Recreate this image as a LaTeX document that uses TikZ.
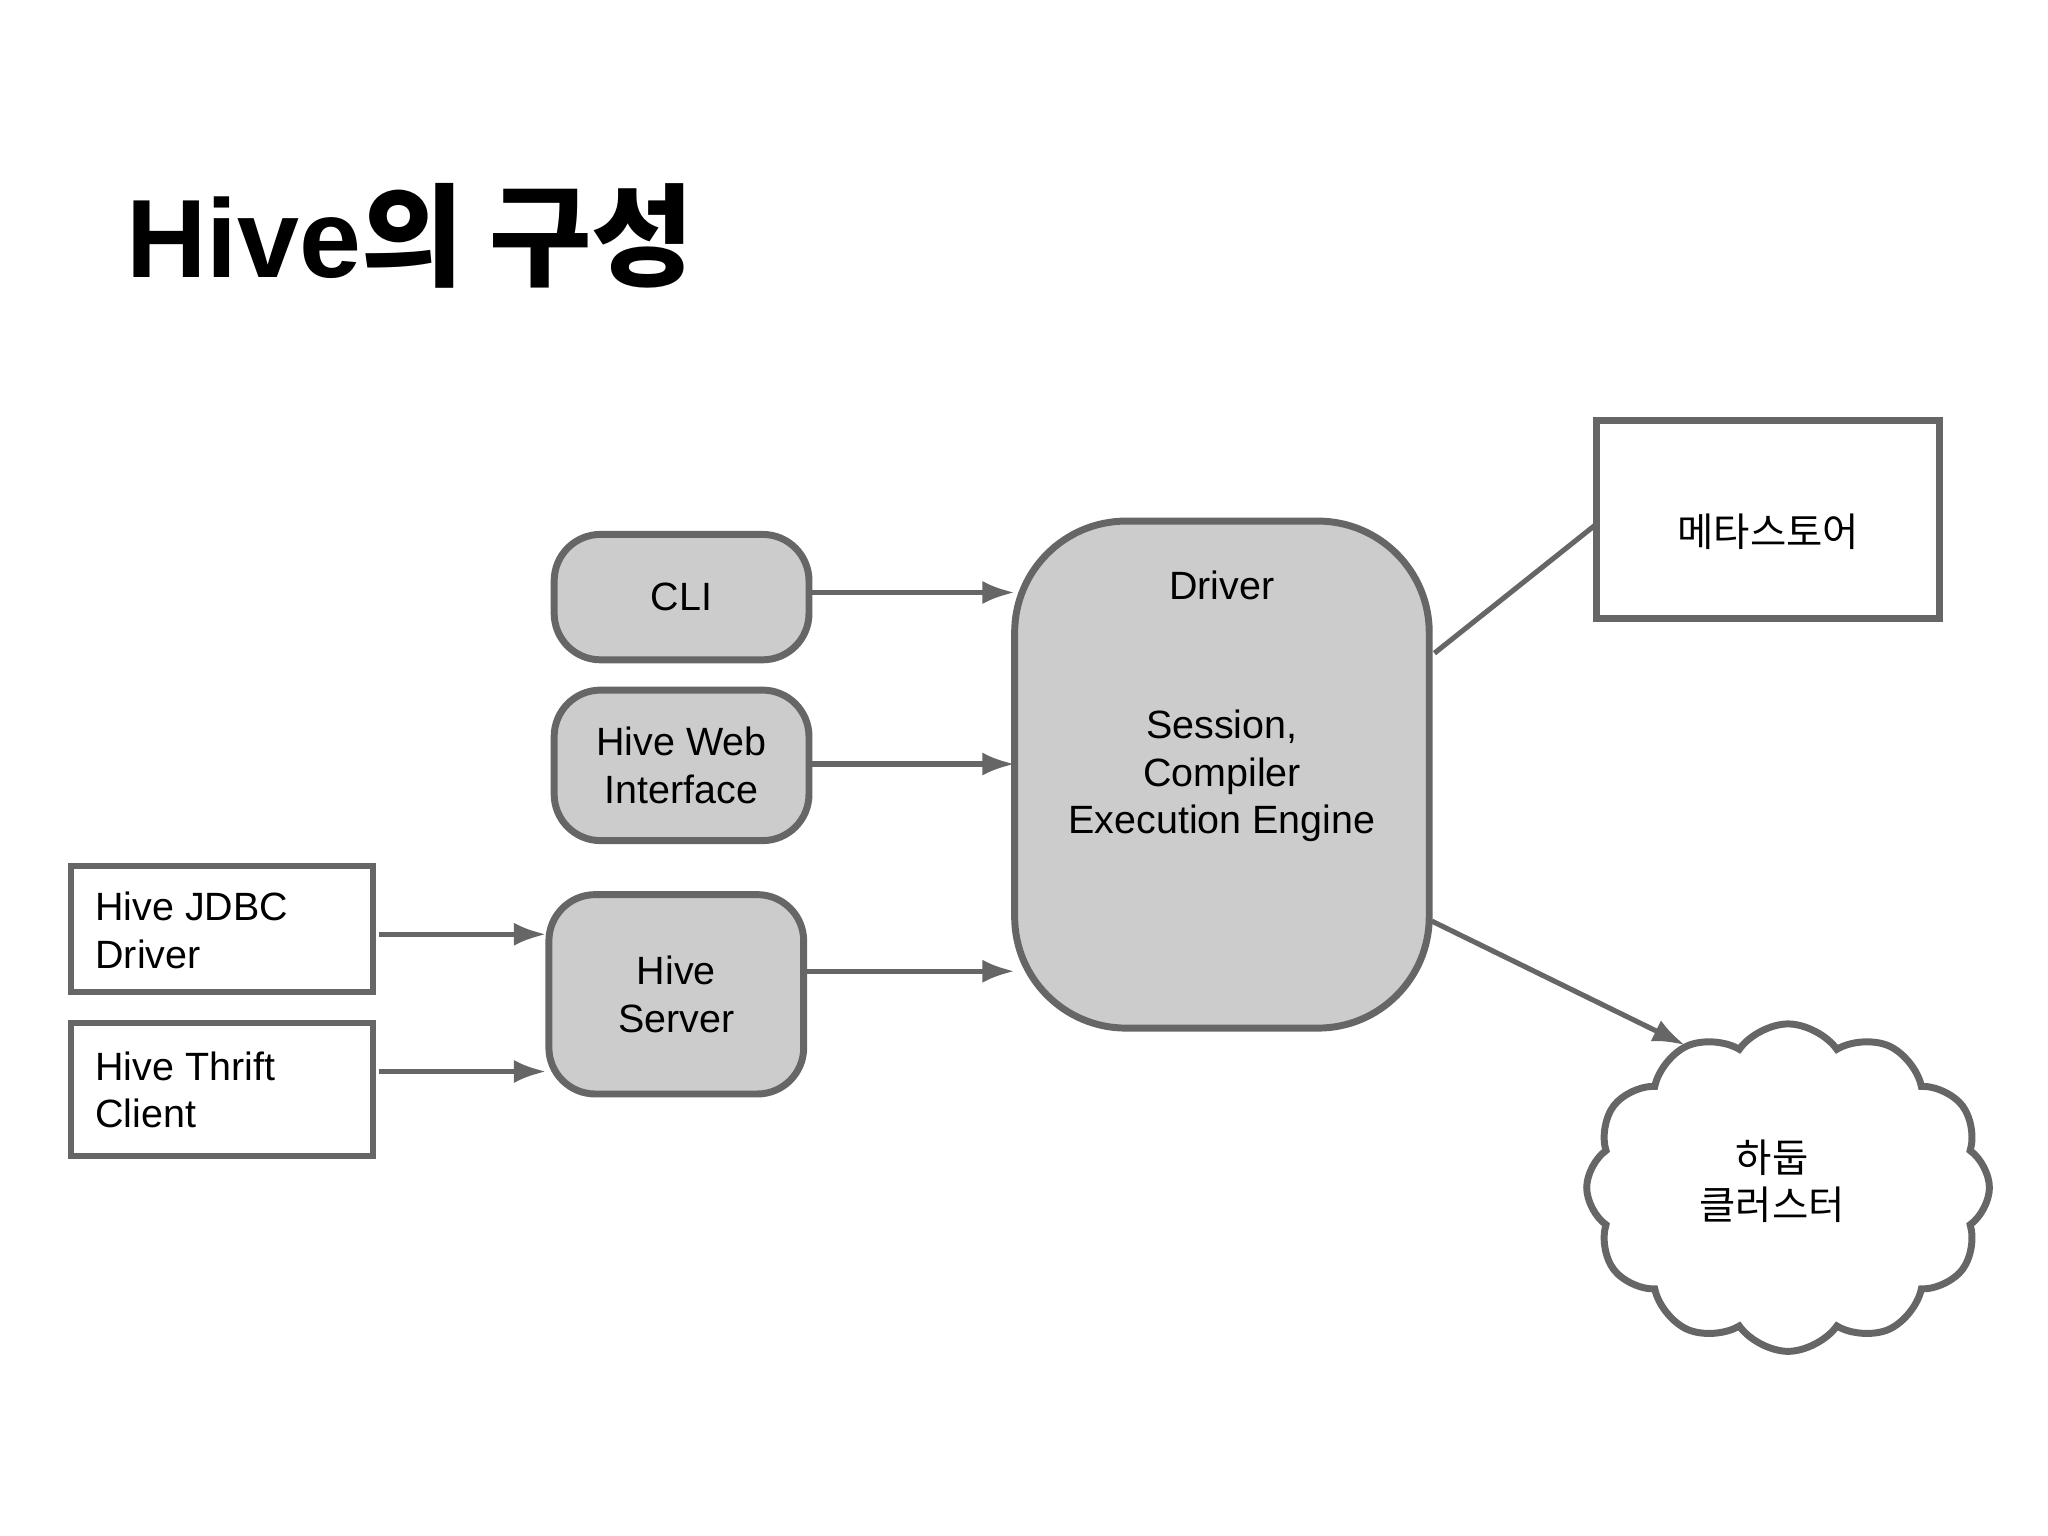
\documentclass[tikz,border=0pt]{standalone}
\usepackage{fontspec}
\setmainfont{Liberation Sans}
\newfontfamily\cjk{Noto Sans CJK KR}
\usetikzlibrary{shapes.symbols,shapes.geometric,arrows.meta}
\begin{document}
\begin{tikzpicture}[x=0.01cm,y=-0.01cm,
  gbox/.style={draw=black!60,line width=1.5pt,fill=black!20,rounded corners=10pt,align=center,font=\fontsize{8.5}{10.2}\selectfont},
  wbox/.style={draw=black!60,line width=1.3pt,fill=white,align=left,font=\fontsize{8.5}{10.2}\selectfont,inner sep=0pt},
  arr/.style={draw=black!60,line width=1.1pt,-{Latex[length=7pt,width=5pt]}},
  ln/.style={draw=black!60,line width=1.1pt}]
\useasboundingbox (0,0) rectangle (1552,1164);
\node[anchor=base west,font=\fontsize{24}{28}\bfseries\selectfont,inner sep=0pt] (title) at (95,210) {Hive{\cjk\bfseries 의 구성}};
\node[gbox,minimum width=1.93cm,minimum height=0.95cm] (cli) at (516.5,452.5) {CLI};
\node[gbox,minimum width=1.93cm,minimum height=1.14cm] (web) at (516.5,580) {Hive Web\\Interface};
\node[gbox,minimum width=1.93cm,minimum height=1.51cm] (srv) at (512.5,753.5) {Hive\\Server};
\node[gbox,minimum width=3.14cm,minimum height=3.84cm,rounded corners=24pt] (drv) at (926,587) {};
\node[font=\fontsize{8.5}{10.2}\selectfont] (drvt) at (926,444) {Driver};
\node[align=center,font=\fontsize{8.5}{10.2}\selectfont] (drvb) at (926,588) {Session,\\Compiler\\Execution Engine};
\draw[wbox] (54,656) rectangle (283,752);
\node[wbox,anchor=west,draw=none,fill=none] (jdbc) at (70,705) {Hive JDBC\\Driver};
\draw[wbox] (54,775) rectangle (283,876);
\node[wbox,anchor=west,draw=none,fill=none] (thr) at (70,826) {Hive Thrift\\Client};
\node[cylinder,shape border rotate=90,aspect=0.2,draw=black!60,line width=1.5pt,fill=white,minimum width=2.6cm,minimum height=1.5cm,inner sep=0pt] (meta) at (1340,395) {};
\node[font=\cjk\fontsize{8.5}{10.2}\selectfont] (metat) at (1340,403) {메타스토어};
\node[cloud,cloud puffs=12,cloud puff arc=110,aspect=1.2,draw=black!60,line width=1.5pt,fill=white,minimum width=3.05cm,minimum height=2.48cm] (cl) at (1355,900) {};
\node[align=center,font=\cjk\fontsize{8.5}{10.2}\selectfont] (clt) at (1343,895) {하둡\\클러스터};
\coordinate (c1) at (613,449); \coordinate (d1) at (769,449);
\coordinate (c2) at (613,579); \coordinate (d2) at (769,579);
\coordinate (c3) at (611,736); \coordinate (d3) at (769,736);
\coordinate (j1) at (287,708); \coordinate (s1) at (414,708);
\coordinate (t1) at (287,812); \coordinate (s2) at (414,812);
\coordinate (m0) at (1087,495); \coordinate (m1) at (1210,397);
\coordinate (h0) at (1085,698); \coordinate (h1) at (1277,792);
\draw[arr] (c1) -- (d1);
\draw[arr] (c2) -- (d2);
\draw[arr] (c3) -- (d3);
\draw[arr] (j1) -- (s1);
\draw[arr] (t1) -- (s2);
\draw[ln] (m0) -- (m1);
\draw[arr] (h0) -- (h1);
\end{tikzpicture}
\end{document}
